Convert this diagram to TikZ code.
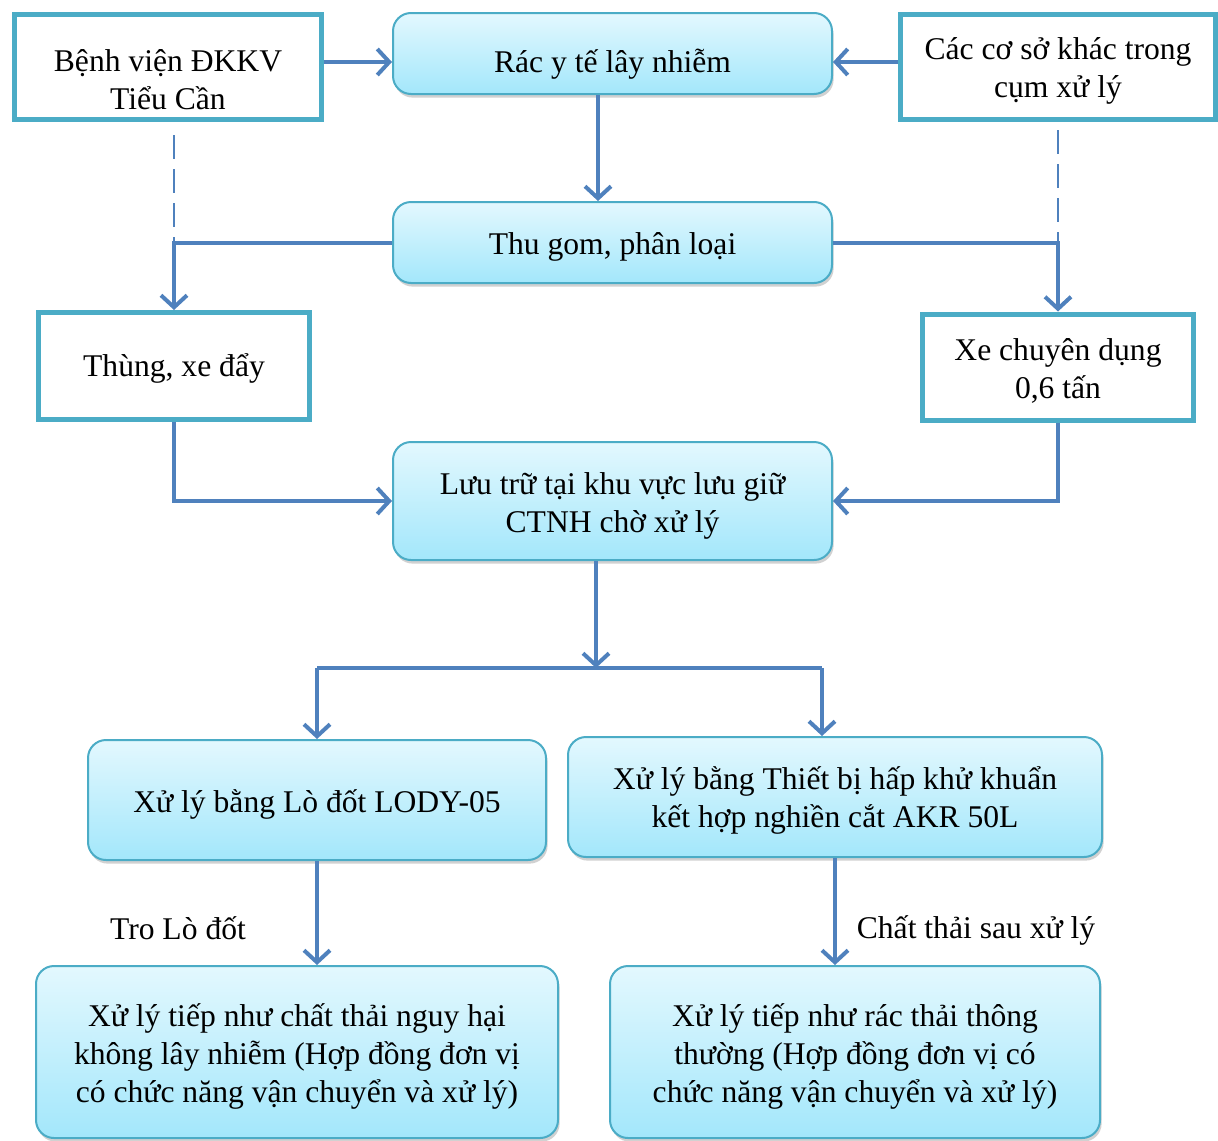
\documentclass[tikz,border=0pt]{standalone}
\usepackage{fontspec}
\setmainfont{Liberation Serif}
\usetikzlibrary{arrows.meta,shadows}
\definecolor{edgeteal}{HTML}{4BACC6}
\definecolor{flowblue}{HTML}{4F81BD}
\definecolor{shadetop}{HTML}{E3F8FE}
\definecolor{shadebot}{HTML}{A3E7FB}

\begin{document}
\begin{tikzpicture}[x=0.5pt,y=-0.5pt,
  txt/.style={font=\fontsize{15.8}{19}\selectfont, align=center, text=black},
  boxtext/.style={label={[txt, yshift=-2pt]center:{#1}}},
  plainbox/.style={txt, draw=edgeteal, line width=2.5pt, fill=white, inner sep=0pt},
  stagebox/.style={txt, draw=edgeteal, line width=1pt, rounded corners=9pt,
    top color=shadetop, bottom color=shadebot, inner sep=0pt,
    drop shadow={shadow xshift=0.8pt, shadow yshift=-1.8pt, opacity=0.3, fill=black!60}},
  flow/.style={draw=flowblue, line width=2pt,
    -{Straight Barb[length=6pt,width=13pt,line width=2pt]}},
  link/.style={draw=flowblue, line width=2pt},
  dashlink/.style={draw=flowblue, line width=1pt, dash pattern=on 12pt off 5pt}
]
\useasboundingbox (0,0) rectangle (1218,1140);

% sources
\node[plainbox, minimum width=153.5pt, minimum height=52.5pt,
  label={[txt, yshift=-6.2pt]center:{Bệnh viện ĐKKV\\Tiểu Cần}}] (hosp) at (168,67) {};
\node[plainbox, minimum width=157.5pt, minimum height=52.5pt,
  boxtext={Các cơ sở khác trong\\cụm xử lý}] (others) at (1058,67) {};

% main stages
\node[stagebox, minimum width=219.5pt, minimum height=40.5pt,
  label={[txt, yshift=-5.5pt]center:{Rác y tế lây nhiễm}}] (waste) at (612.5,53.5) {};
\node[stagebox, minimum width=219.5pt, minimum height=40.5pt,
  boxtext={Thu gom, phân loại}] (collect) at (612.5,242.5) {};

% transport
\node[plainbox, minimum width=135.5pt, minimum height=53.5pt,
  label={[txt, yshift=-1pt]center:{Thùng, xe đẩy}}] (cart) at (174,366) {};
\node[plainbox, minimum width=135.5pt, minimum height=53pt,
  boxtext={Xe chuyên dụng\\0,6 tấn}] (truck) at (1058,367) {};

% storage
\node[stagebox, minimum width=219.5pt, minimum height=59pt,
  label={[txt, yshift=-2.5pt]center:{Lưu trữ tại khu vực lưu giữ\\CTNH chờ xử lý}}] (store) at (612.5,501) {};

% treatment
\node[stagebox, minimum width=229pt, minimum height=60pt,
  boxtext={Xử lý bằng Lò đốt LODY-05}] (burn) at (317,800) {};
\node[stagebox, minimum width=267pt, minimum height=60pt,
  label={[txt, yshift=-1.5pt]center:{Xử lý bằng Thiết bị hấp khử khuẩn\\kết hợp nghiền cắt AKR 50L}}] (steam) at (835,797) {};

% final handling
\node[stagebox, minimum width=261pt, minimum height=86pt,
  boxtext={Xử lý tiếp như chất thải nguy hại\\không lây nhiễm (Hợp đồng đơn vị\\có chức năng vận chuyển và xử lý)}] (hazard) at (297,1052) {};
\node[stagebox, minimum width=245pt, minimum height=86pt,
  boxtext={Xử lý tiếp như rác thải thông\\thường (Hợp đồng đơn vị có\\chức năng vận chuyển và xử lý)}] (normal) at (855,1052) {};

% edge labels
\node[txt] (ashlbl) at (178,928) {Tro Lò đốt};
\node[txt] (restlbl) at (976,930) {Chất thải sau xử lý};

% connectors
\draw[flow] ([yshift=2.5pt]hosp.east) -- ([yshift=-4.25pt]waste.west);
\draw[flow] ([yshift=2.5pt]others.west) -- ([yshift=-4.25pt]waste.east);
\draw[flow] ([xshift=-7.25pt]waste.south) -- ([xshift=-7.25pt]collect.north);

\draw[dashlink] ([yshift=-6.5pt]cart.north |- hosp.south) -- (cart.north |- collect.west);
\draw[dashlink] ([yshift=-4pt]truck.north |- others.south) -- (truck.north |- collect.east);
\draw[flow] (collect.west) -| (cart.north);
\draw[flow] (collect.east) -| (truck.north);

\draw[flow] (cart.south) |- (store.west);
\draw[flow] (truck.south) |- (store.east);

\coordinate (split) at (596,668);
\coordinate (splitL) at (317,668);
\coordinate (splitR) at (822,668);
\draw[flow] (split |- store.south) -- (split);
\draw[link] (splitL) -- (splitR);
\draw[flow] (splitL) -- (burn.north);
\draw[flow] (splitR) -- (splitR |- steam.north);

\draw[flow] (burn.south) -- (burn.south |- hazard.north);
\draw[flow] (steam.south) -- (steam.south |- normal.north);
\end{tikzpicture}
\end{document}
